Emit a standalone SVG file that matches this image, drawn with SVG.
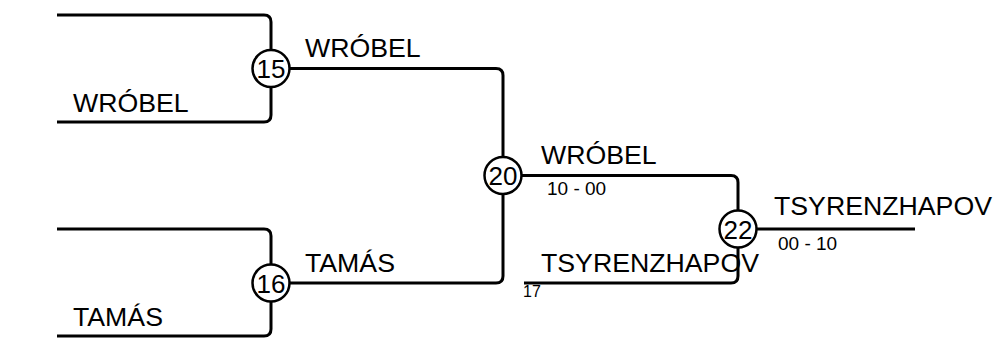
<svg xmlns="http://www.w3.org/2000/svg" width="994" height="338" viewBox="0 0 994 338">
<style>
.ln{fill:none;stroke:#000;stroke-width:3}
.nd circle{fill:#fff;stroke:#000;stroke-width:2.5}
text{font-family:"Liberation Sans",Arial,sans-serif;fill:#000}
.big{font-size:26.7px}
.num{font-size:26px;text-anchor:middle}
.sm{font-size:19px}
.tiny{font-size:16px}
</style>
<rect width="994" height="338" fill="#fff"/>
<g id="connectors">
<path class="ln" d="M57,15 H264 Q271,15 271,22 V115 Q271,122 264,122 H57"/>
<path class="ln" d="M57,229 H264 Q271,229 271,236 V329 Q271,336 264,336 H57"/>
<path class="ln" d="M271,68.5 H496 Q503,68.5 503,75.5 V276 Q503,283 496,283 H271"/>
<path class="ln" d="M503,175.5 H731 Q738,175.5 738,182.5 V276 Q738,283 731,283 H524"/>
<path class="ln" d="M738,229 H915"/>
</g>
<g id="labels">
<text class="big" x="73" y="112">WRÓBEL</text>
<text class="big" x="73" y="326">TAMÁS</text>
<text class="big" x="305" y="57">WRÓBEL</text>
<text class="big" x="305" y="272">TAMÁS</text>
<text class="big" x="541" y="164">WRÓBEL</text>
<text class="sm" x="547" y="195">10 - 00</text>
<text class="big" x="541" y="272">TSYRENZHAPOV</text>
<text class="tiny" x="523" y="297">17</text>
<text class="big" x="774" y="215">TSYRENZHAPOV</text>
<text class="sm" x="778" y="250">00 - 10</text>
</g>
<g id="n15" class="nd"><circle cx="271" cy="68.5" r="18.5"/><text class="num" x="271" y="78">15</text></g>
<g id="n16" class="nd"><circle cx="271" cy="283" r="18.5"/><text class="num" x="271" y="292.5">16</text></g>
<g id="n20" class="nd"><circle cx="503" cy="175.5" r="18.5"/><text class="num" x="503" y="185">20</text></g>
<g id="n22" class="nd"><circle cx="738" cy="229" r="18.5"/><text class="num" x="738" y="238.5">22</text></g>
</svg>
